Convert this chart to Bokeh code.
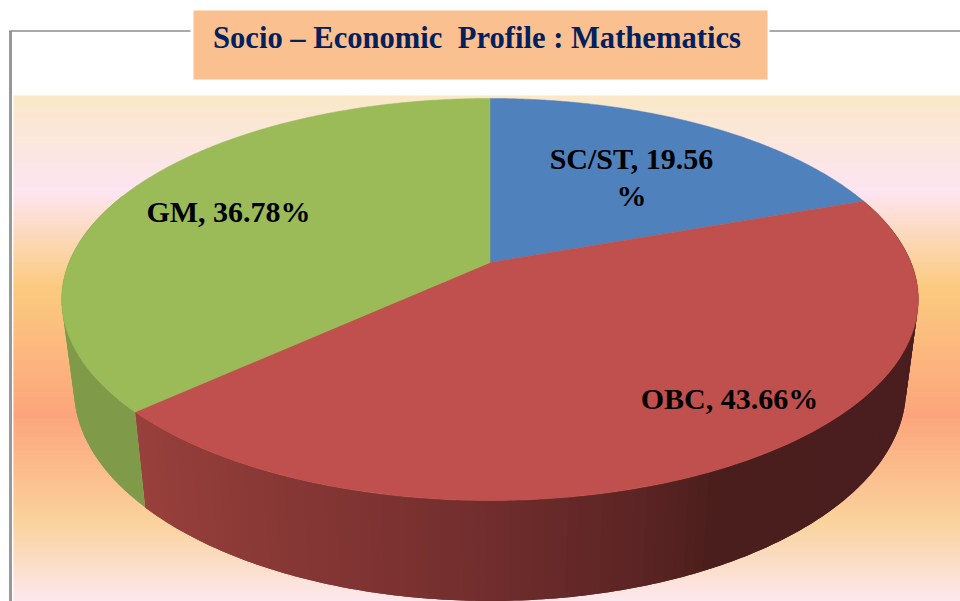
import numpy as np
from bokeh.plotting import figure
from bokeh.models import Range1d
from bokeh.core.properties import value
from bokeh.embed import file_html
from bokeh.resources import INLINE

categories = ["SC/ST", "OBC", "GM"]
shares = [19.56, 43.66, 36.78]
labels = ["SC/ST, 19.56\n%", "OBC, 43.66%", "GM, 36.78%"]
title_text = "Socio \u2013 Economic \u00a0Profile : Mathematics"
slice_colors = ["#4F81BD", "#C0504D", "#9BBB59"]

CX, K = 489.5, 0.184


def rim(theta, w, a, b):
    u, v = np.sin(theta), np.cos(theta)
    d = 1 + K * v
    return CX + w * u / d, (a + b * v) / d


def top(theta):
    return rim(theta, 421.0, 262.0, -146.0)


def low(theta):
    return rim(theta, 409.0, 349.0, -141.0)


def hexmix(stops, x):
    xs = [s[0] for s in stops]
    cs = np.array([[int(s[1][i:i + 2], 16) for i in (1, 3, 5)] for s in stops], float)
    return "#%02x%02x%02x" % tuple(int(round(np.interp(x, xs, cs[:, i]))) for i in range(3))


p = figure(width=960, height=601, output_backend="svg", toolbar_location=None,
           x_range=Range1d(0, 960), y_range=Range1d(601, 0), min_border=0)
p.axis.visible = False
p.grid.visible = False
p.outline_line_color = None
p.background_fill_color = "#FFFFFF"
p.border_fill_color = "#FFFFFF"

# backdrop gradient, drawn as thin horizontal bands
grad = [(95, "#FAE8C8"), (190, "#FDE5F2"), (285, "#FBCB80"), (415, "#FCA57C"),
        (520, "#FAD29B"), (601, "#FDE8EE")]
band_edges = np.arange(95, 603, 2)
band_cols = [hexmix(grad, y + 1) for y in band_edges[:-1]]
p.quad(left=13, right=960, top=band_edges[:-1], bottom=band_edges[1:] + 0.4,
       fill_color=band_cols, line_color=None)

# frame
p.line([10, 10], [601, 30.5], line_color="#999999", line_width=3)
p.line([9, 190], [30.5, 30.5], line_color="#8C8C8C", line_width=1.5)
p.line([769, 960], [30.5, 30.5], line_color="#8C8C8C", line_width=1.5)

# title box
p.quad(left=[193], right=[767], top=[10], bottom=[79], fill_color="#FBC08F", line_color=None)
p.text(x=[212.5], y=[37.5], text=[title_text], text_font=value("Liberation Serif"),
       text_font_style="bold", text_font_size="30.6px", text_color="#002060",
       text_align="left", text_baseline="middle")

# slice angles
fr = np.cumsum([0.0] + shares) / sum(shares)
ang = fr * 2 * np.pi

# side wall
red_side = [(135, "#98403C"), (240, "#8C3A37"), (480, "#732E2E"), (660, "#5A2323"),
            (720, "#4A1E1C"), (918, "#4A1E1F")]
green_side = [(60, "#7F9B49"), (150, "#7F9B49")]
for lo, hi, stops in [(ang[1], ang[2], red_side), (ang[2], np.pi * 1.62, green_side)]:
    edges = np.linspace(lo, hi, 121 if stops is red_side else 21)
    xs, ys, cols = [], [], []
    for k in range(len(edges) - 1):
        a0, a1 = edges[k], edges[min(k + 2, len(edges) - 1)]
        seg = np.linspace(a0, a1, 5)
        tx, ty = top(seg)
        lx, ly = low(seg)
        xs.append(np.r_[tx, lx[::-1]])
        ys.append(np.r_[ty, ly[::-1]])
        cols.append(hexmix(stops, top(np.array([edges[k]]))[0][0]))
    p.patches(xs, ys, fill_color=cols, line_color=None)

# top disc
for i in range(3):
    th = np.linspace(ang[i], ang[i + 1], 240)
    x, y = top(th)
    p.patch(np.r_[CX, x], np.r_[262.0, y], fill_color=slice_colors[i], line_color=slice_colors[i], line_width=0.5)

# labels
lab_x = [631, 729, 228]
lab_y = [176.5, 397.5, 211]
p.text(x=lab_x, y=lab_y, text=labels, text_font=value("Liberation Serif"), text_font_style="bold",
       text_font_size="30px", text_color="#000000", text_align="center", text_baseline="middle",
       text_line_height=1.12)

open("out.html", "w").write(file_html(p, INLINE))
